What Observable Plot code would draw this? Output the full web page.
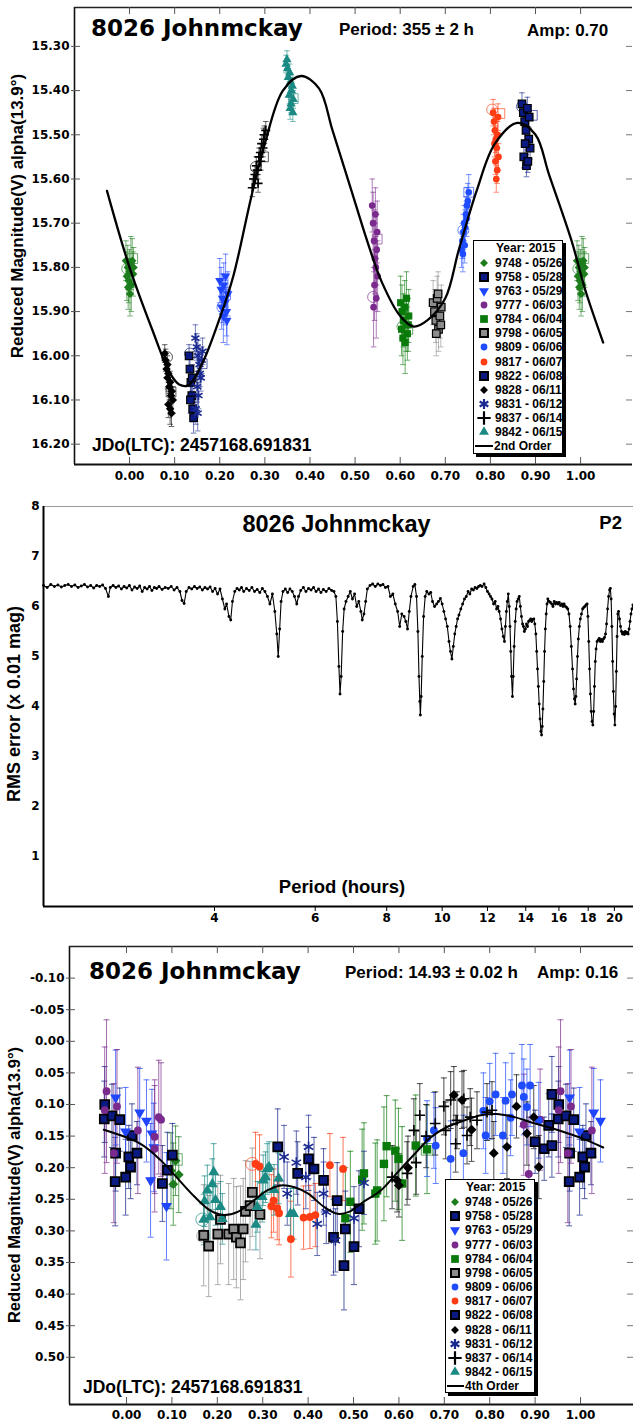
<!DOCTYPE html>
<html><head><meta charset="utf-8">
<script src="https://cdn.jsdelivr.net/npm/d3@7"></script>
<script src="https://cdn.jsdelivr.net/npm/@observablehq/plot@0.6"></script>
<style>
body{margin:0;background:#fff}
#page{position:relative;width:633px;height:1425px;overflow:hidden;background:#fff}
.t{position:absolute;white-space:nowrap;color:#000}
.lg{position:absolute;border:1px solid #000;background:#fff;box-shadow:3px 3px 0 #000}
.lg div{position:absolute;white-space:nowrap;font:bold 12px "Liberation Sans",Arial,sans-serif;line-height:14px;color:#000}
</style></head><body><div id="page"></div>
<script>
// ---------- sessions ----------
const sessionIds = ["9748","9758","9763","9777","9784","9798","9809","9817","9822","9828","9831","9837","9842"];
const sessionDates = ["05/26","05/28","05/29","06/03","06/04","06/05","06/06","06/07","06/08","06/11","06/12","06/14","06/15"];
const sessionColors = ["#1d7d1d","#0a1a82","#1f45ff","#7a2a8c","#0a7a0a","#8c8c8c","#1f4cff","#ff3c14","#0a1a82","#000000","#1a2a90","#000000","#1b8a84"];
const sessionSymbols = ["diamond","squareB","triDown","circle","square","squareB","circle","circle","squareB","diamond","asterisk","plus","triangle"];

// ---------- top panel (P = 355 h): [phase, mag, err] ----------
const top9748 = [[-0.008,15.785,0.045],[-0.004,15.80,0.05],[0.000,15.81,0.05],[0.003,15.79,0.06],[0.006,15.785,0.05],[0.009,15.80,0.045],[-0.002,15.83,0.05],[0.004,15.84,0.06],[0.001,15.86,0.05],[-0.006,15.82,0.055],[0.008,15.815,0.05],[-0.003,15.845,0.05]];
const top9758 = [[0.132,16.00,0.025],[0.134,16.03,0.03],[0.136,16.06,0.03],[0.138,16.09,0.03],[0.140,16.12,0.03],[0.142,16.14,0.035],[0.135,16.10,0.03],[0.139,16.05,0.03]];
const top9763 = [[0.200,15.83,0.05],[0.203,15.85,0.05],[0.206,15.87,0.055],[0.209,15.84,0.05],[0.212,15.88,0.05],[0.215,15.90,0.055],[0.218,15.86,0.05],[0.208,15.91,0.06],[0.213,15.82,0.05],[0.216,15.92,0.055],[0.204,15.89,0.05]];
const top9777 = [[0.538,15.66,0.06],[0.540,15.70,0.07],[0.542,15.74,0.07],[0.544,15.78,0.08],[0.546,15.80,0.07],[0.548,15.76,0.08],[0.550,15.82,0.08],[0.543,15.84,0.08],[0.547,15.87,0.09],[0.541,15.89,0.09],[0.549,15.72,0.07],[0.545,15.68,0.06]];
const top9784 = [[0.601,15.88,0.06],[0.604,15.90,0.06],[0.607,15.92,0.06],[0.610,15.89,0.06],[0.613,15.93,0.06],[0.616,15.95,0.06],[0.619,15.91,0.06],[0.606,15.96,0.06],[0.611,15.97,0.07],[0.614,15.87,0.06],[0.603,15.94,0.06],[0.618,15.93,0.06]];
const top9798 = [[0.673,15.88,0.05],[0.676,15.90,0.05],[0.679,15.92,0.05],[0.682,15.87,0.05],[0.685,15.94,0.05],[0.688,15.91,0.05],[0.691,15.89,0.05],[0.680,15.95,0.05],[0.684,15.86,0.05],[0.690,15.93,0.05]];
const top9809 = [[0.736,15.76,0.04],[0.738,15.74,0.04],[0.740,15.72,0.04],[0.742,15.70,0.04],[0.744,15.71,0.04],[0.746,15.68,0.04],[0.748,15.66,0.04],[0.750,15.65,0.04],[0.752,15.63,0.04],[0.743,15.75,0.04],[0.747,15.69,0.04],[0.739,15.77,0.04]];
const top9817 = [[0.806,15.45,0.03],[0.808,15.47,0.03],[0.810,15.49,0.03],[0.812,15.51,0.03],[0.814,15.53,0.03],[0.816,15.50,0.03],[0.818,15.55,0.03],[0.811,15.56,0.03],[0.815,15.58,0.03],[0.813,15.60,0.03],[0.809,15.52,0.03],[0.817,15.46,0.03]];
const top9822 = [[0.870,15.43,0.025],[0.873,15.45,0.025],[0.876,15.47,0.025],[0.879,15.49,0.025],[0.882,15.44,0.025],[0.885,15.51,0.025],[0.888,15.53,0.025],[0.874,15.55,0.025],[0.880,15.57,0.025],[0.886,15.46,0.025],[0.877,15.52,0.025],[0.883,15.56,0.025]];
const top9828 = [[0.078,15.995,0.02],[0.080,16.01,0.025],[0.082,16.03,0.02],[0.084,16.05,0.025],[0.086,16.04,0.02],[0.088,16.07,0.03],[0.090,16.06,0.025],[0.092,16.09,0.03],[0.094,16.08,0.025],[0.086,16.11,0.03],[0.090,16.12,0.035],[0.093,16.13,0.03],[0.084,16.02,0.02],[0.096,16.10,0.03]];
const top9831 = [[0.146,15.96,0.03],[0.149,15.98,0.03],[0.152,16.00,0.035],[0.155,16.02,0.03],[0.158,16.05,0.03],[0.150,16.07,0.035],[0.153,16.09,0.03],[0.147,16.12,0.035],[0.156,16.04,0.03],[0.160,16.01,0.03],[0.162,15.99,0.03],[0.151,16.13,0.04]];
const top9837 = [[0.272,15.62,0.02],[0.275,15.60,0.02],[0.278,15.59,0.02],[0.281,15.57,0.02],[0.284,15.58,0.02],[0.287,15.55,0.02],[0.290,15.54,0.02],[0.293,15.52,0.02],[0.296,15.53,0.02],[0.299,15.50,0.02],[0.302,15.49,0.02],[0.285,15.61,0.02],[0.291,15.56,0.02],[0.297,15.51,0.025]];
const top9842 = [[0.347,15.34,0.02],[0.350,15.35,0.02],[0.352,15.37,0.02],[0.355,15.36,0.02],[0.357,15.38,0.02],[0.359,15.40,0.02],[0.361,15.39,0.02],[0.363,15.42,0.02],[0.354,15.41,0.02],[0.358,15.43,0.02],[0.362,15.45,0.02],[0.349,15.33,0.02],[0.356,15.44,0.025]];
// open session markers: [session index, shape, phase, mag]
const topOpen = [[0,"c",-0.005,15.803],[0,"s",0.007,15.78],[9,"c",0.083,16.003],[9,"s",0.092,16.082],[1,"c",0.134,15.995],[1,"s",0.161,16.018],[2,"c",0.206,15.89],[2,"s",0.213,15.862],[11,"c",0.28,15.573],[11,"s",0.297,15.55],[12,"s",0.363,15.418],[3,"s",0.549,15.736],[3,"c",0.54,15.867],[4,"c",0.605,15.934],[4,"s",0.617,15.94],[5,"s",0.685,15.912],[6,"s",0.752,15.63],[6,"c",0.74,15.716],[7,"c",0.804,15.443],[7,"s",0.821,15.452],[8,"c",0.87,15.436],[8,"s",0.893,15.456]];
const fit2nd = [[-0.05,15.627],[0.00,15.80],[0.05,15.94],[0.09,16.04],[0.11,16.065],[0.13,16.067],[0.16,16.02],[0.20,15.915],[0.23,15.82],[0.27,15.64],[0.30,15.52],[0.34,15.40],[0.38,15.367],[0.42,15.395],[0.45,15.49],[0.49,15.62],[0.53,15.75],[0.56,15.835],[0.60,15.91],[0.63,15.934],[0.66,15.92],[0.70,15.87],[0.73,15.76],[0.77,15.625],[0.81,15.52],[0.86,15.473],[0.90,15.50],[0.93,15.59],[0.98,15.74],[1.01,15.85],[1.05,15.97]];
const topXTicks = [0,0.1,0.2,0.3,0.4,0.5,0.6,0.7,0.8,0.9,1.0];
const topYTicks = [15.3,15.4,15.5,15.6,15.7,15.8,15.9,16.0,16.1,16.2];

// ---------- bottom panel (P = 14.93 h): [phase, relative mag, err] ----------
const b9748 = [[0.098,0.205,0.06],[0.103,0.226,0.065],[0.108,0.189,0.055],[0.115,0.211,0.06]];
const b9758 = [[0.952,0.100,0.06],[0.951,0.123,0.06],[0.968,0.118,0.05],[0.985,0.124,0.05],[0.976,0.177,0.06],[0.975,0.222,0.07],[0.998,0.215,0.06],[0.005,0.183,0.05],[0.009,0.199,0.05],[0.023,0.177,0.05],[0.012,0.149,0.05],[0.079,0.225,0.06],[0.101,0.180,0.05],[0.090,0.204,0.06],[0.937,0.084,0.06],[0.920,0.170,0.05],[0.900,0.159,0.05],[0.930,0.133,0.05],[0.937,0.165,0.05]];
const b9763 = [[0.976,0.089,0.075],[0.998,0.143,0.07],[0.029,0.113,0.07],[0.044,0.126,0.065],[0.056,0.146,0.07],[0.060,0.168,0.07],[0.053,0.220,0.09],[0.088,0.261,0.085]];
const b9777 = [[0.025,0.141,0.10],[0.062,0.151,0.09],[0.071,0.120,0.09],[0.076,0.124,0.09],[0.062,0.170,0.10],[0.875,0.132,0.08],[0.886,0.210,0.09],[0.911,0.124,0.08],[0.952,0.109,0.10],[0.956,0.079,0.113],[0.972,0.177,0.11],[0.979,0.103,0.09]];
const b9784 = [[0.482,0.280,0.08],[0.493,0.254,0.08],[0.519,0.219,0.08],[0.523,0.209,0.08],[0.548,0.241,0.08],[0.552,0.236,0.08],[0.567,0.194,0.09],[0.573,0.166,0.08],[0.592,0.173,0.08],[0.599,0.186,0.08],[0.607,0.225,0.09],[0.637,0.165,0.08],[0.662,0.171,0.07]];
const b9798 = [[0.170,0.307,0.08],[0.181,0.324,0.08],[0.201,0.305,0.08],[0.207,0.282,0.07],[0.225,0.305,0.08],[0.236,0.297,0.08],[0.242,0.310,0.08],[0.251,0.319,0.09],[0.257,0.297,0.08],[0.262,0.269,0.08],[0.272,0.260,0.07],[0.277,0.239,0.07],[0.294,0.274,0.07]];
const b9809 = [[0.662,0.154,0.06],[0.677,0.141,0.06],[0.681,0.165,0.06],[0.714,0.186,0.06],[0.742,0.177,0.06],[0.786,0.110,0.06],[0.791,0.149,0.06],[0.800,0.095,0.06],[0.813,0.084,0.065],[0.829,0.149,0.06],[0.835,0.094,0.06],[0.846,0.121,0.06],[0.849,0.084,0.065],[0.871,0.070,0.065],[0.875,0.088,0.06],[0.882,0.104,0.06],[0.889,0.070,0.065],[0.908,0.125,0.06]];
const b9817 = [[0.284,0.194,0.05],[0.293,0.198,0.05],[0.319,0.261,0.05],[0.324,0.252,0.05],[0.332,0.264,0.05],[0.336,0.272,0.05],[0.362,0.313,0.06],[0.390,0.279,0.05],[0.404,0.278,0.05],[0.416,0.275,0.05],[0.448,0.196,0.05],[0.477,0.202,0.05]];
const b9822 = [[0.333,0.167,0.06],[0.377,0.209,0.05],[0.401,0.186,0.05],[0.413,0.202,0.05],[0.434,0.220,0.05],[0.456,0.310,0.06],[0.464,0.252,0.06],[0.479,0.355,0.07],[0.482,0.297,0.06],[0.501,0.325,0.06],[0.512,0.265,0.06]];
const b9828 = [[0.596,0.220,0.05],[0.600,0.228,0.05],[0.620,0.200,0.05],[0.721,0.085,0.045],[0.739,0.093,0.045],[0.760,0.140,0.05],[0.809,0.177,0.05],[0.838,0.167,0.05],[0.859,0.103,0.05],[0.882,0.146,0.05],[0.897,0.120,0.05],[0.908,0.199,0.05]];
const b9831 = [[0.347,0.183,0.05],[0.354,0.241,0.05],[0.374,0.192,0.05],[0.395,0.215,0.05],[0.401,0.167,0.05],[0.420,0.289,0.05],[0.434,0.241,0.05],[0.440,0.270,0.05],[0.460,0.315,0.05],[0.501,0.280,0.05],[0.523,0.224,0.05]];
const b9837 = [[0.585,0.215,0.05],[0.618,0.209,0.05],[0.633,0.141,0.05],[0.638,0.192,0.05],[0.646,0.117,0.05],[0.660,0.150,0.05],[0.680,0.130,0.05],[0.699,0.103,0.045],[0.703,0.141,0.045],[0.714,0.093,0.045],[0.725,0.162,0.045],[0.728,0.125,0.045],[0.743,0.091,0.045],[0.750,0.149,0.045],[0.757,0.120,0.045],[0.772,0.125,0.045],[0.794,0.112,0.045],[0.805,0.109,0.045]];
const b9842 = [[0.170,0.282,0.04],[0.172,0.253,0.04],[0.178,0.236,0.04],[0.184,0.278,0.04],[0.189,0.226,0.04],[0.192,0.207,0.045],[0.196,0.251,0.04],[0.207,0.262,0.04],[0.211,0.281,0.04],[0.285,0.290,0.04],[0.288,0.262,0.04],[0.299,0.246,0.04],[0.301,0.220,0.04],[0.306,0.215,0.04],[0.310,0.202,0.04],[0.314,0.199,0.04],[0.325,0.235,0.04],[0.335,0.217,0.04],[0.361,0.273,0.04],[0.368,0.273,0.04]];
const bottomOpen = [[0,"s",0.110,0.187],[12,"c",0.167,0.282],[5,"c",0.169,0.308],[7,"c",0.277,0.194],[4,"s",0.662,0.171]];
const fit4th = [[-0.05,0.140],[0.03,0.162],[0.075,0.188],[0.11,0.215],[0.15,0.246],[0.185,0.268],[0.215,0.275],[0.245,0.270],[0.28,0.252],[0.31,0.236],[0.34,0.228],[0.37,0.231],[0.40,0.241],[0.435,0.262],[0.465,0.273],[0.49,0.270],[0.52,0.255],[0.56,0.236],[0.595,0.209],[0.635,0.178],[0.67,0.152],[0.705,0.136],[0.745,0.125],[0.78,0.117],[0.815,0.115],[0.855,0.12],[0.89,0.128],[0.93,0.136],[0.965,0.144],[1.005,0.154],[1.05,0.168]];
const botXTicks = [0,0.1,0.2,0.3,0.4,0.5,0.6,0.7,0.8,0.9,1.0];
const botYTicks = [-0.10,-0.05,0,0.05,0.10,0.15,0.20,0.25,0.30,0.35,0.40,0.45,0.50];

// ---------- periodogram: [period hours, RMS x0.01 mag] ----------
const periodogram = [[2.01,6.42],[2.04,6.38],[2.07,6.44],[2.10,6.40],[2.13,6.43],[2.16,6.39],[2.19,6.42],[2.22,6.44],[2.25,6.40],[2.28,6.43],[2.31,6.38],[2.34,6.41],[2.37,6.44],[2.40,6.39],[2.43,6.42],[2.46,6.37],[2.49,6.42],[2.52,6.40],[2.55,6.43],[2.58,6.36],[2.61,6.20],[2.63,6.38],[2.66,6.42],[2.69,6.38],[2.72,6.41],[2.75,6.35],[2.78,6.40],[2.81,6.37],[2.84,6.42],[2.87,6.33],[2.90,6.39],[2.93,6.36],[2.96,6.41],[2.99,6.30],[3.02,6.38],[3.05,6.35],[3.08,6.40],[3.11,6.32],[3.14,6.38],[3.17,6.36],[3.20,6.40],[3.24,6.34],[3.28,6.38],[3.32,6.36],[3.36,6.40],[3.40,6.33],[3.44,6.38],[3.48,6.30],[3.51,6.12],[3.54,6.06],[3.57,6.30],[3.61,6.38],[3.65,6.35],[3.69,6.40],[3.73,6.36],[3.77,6.39],[3.81,6.33],[3.85,6.38],[3.89,6.35],[3.93,6.39],[3.97,6.30],[4.01,6.36],[4.05,6.25],[4.09,6.35],[4.13,6.15],[4.17,5.95],[4.20,6.05],[4.24,5.80],[4.27,5.73],[4.30,6.10],[4.34,6.30],[4.38,6.36],[4.42,6.33],[4.46,6.38],[4.50,6.30],[4.55,6.36],[4.60,6.32],[4.65,6.38],[4.70,6.30],[4.75,6.34],[4.80,6.28],[4.85,6.36],[4.90,6.30],[4.95,6.20],[5.00,6.05],[5.05,6.25],[5.10,5.90],[5.14,5.45],[5.17,5.00],[5.20,5.55],[5.23,6.10],[5.27,6.30],[5.32,6.35],[5.37,6.28],[5.42,6.35],[5.47,6.30],[5.52,6.20],[5.57,6.05],[5.61,6.20],[5.66,6.32],[5.72,6.38],[5.78,6.30],[5.84,6.36],[5.90,6.33],[5.96,6.38],[6.02,6.30],[6.08,6.35],[6.14,6.28],[6.20,6.34],[6.27,6.30],[6.34,6.36],[6.41,6.32],[6.47,6.30],[6.52,6.20],[6.56,5.70],[6.60,4.80],[6.63,4.25],[6.66,4.60],[6.70,5.50],[6.74,5.95],[6.79,6.10],[6.85,6.20],[6.91,6.30],[6.97,6.15],[7.03,6.25],[7.09,6.00],[7.15,6.10],[7.21,5.90],[7.25,5.73],[7.30,5.85],[7.35,6.10],[7.40,6.35],[7.48,6.42],[7.56,6.45],[7.64,6.40],[7.72,6.45],[7.80,6.42],[7.88,6.44],[7.96,6.38],[8.04,6.40],[8.12,6.20],[8.20,6.25],[8.28,6.05],[8.36,5.90],[8.43,5.60],[8.50,5.85],[8.58,5.80],[8.64,5.70],[8.70,5.55],[8.76,5.90],[8.82,6.20],[8.90,6.40],[8.96,6.44],[9.02,6.20],[9.07,5.50],[9.11,4.60],[9.14,4.10],[9.16,3.83],[9.19,4.20],[9.23,5.00],[9.28,5.80],[9.34,6.20],[9.40,6.30],[9.48,6.25],[9.55,6.28],[9.62,6.10],[9.70,6.00],[9.78,6.05],[9.85,6.10],[9.93,6.16],[10.00,6.05],[10.07,5.90],[10.14,5.75],[10.21,5.60],[10.28,5.30],[10.34,5.10],[10.40,4.95],[10.46,5.20],[10.52,5.45],[10.58,5.60],[10.64,5.75],[10.70,5.83],[10.78,5.95],[10.86,6.05],[10.94,6.15],[11.02,6.20],[11.10,6.30],[11.18,6.25],[11.26,6.35],[11.34,6.33],[11.42,6.38],[11.50,6.36],[11.58,6.40],[11.66,6.42],[11.74,6.40],[11.84,6.45],[11.92,6.38],[12.00,6.30],[12.08,6.25],[12.15,6.20],[12.22,6.15],[12.30,6.05],[12.38,6.10],[12.45,5.95],[12.52,6.00],[12.58,5.90],[12.65,5.75],[12.72,5.55],[12.79,5.40],[12.85,5.30],[12.90,5.60],[12.95,5.90],[13.00,6.10],[13.05,6.25],[13.10,6.00],[13.14,5.60],[13.18,5.10],[13.22,4.60],[13.27,4.20],[13.31,4.60],[13.36,5.20],[13.42,5.70],[13.47,5.95],[13.52,6.10],[13.58,6.15],[13.64,6.20],[13.70,6.00],[13.76,5.80],[13.82,5.65],[13.87,5.60],[13.92,5.50],[13.98,5.55],[14.04,5.65],[14.10,5.60],[14.16,5.70],[14.22,5.72],[14.28,5.75],[14.34,5.70],[14.40,5.74],[14.46,5.75],[14.52,5.65],[14.58,5.45],[14.63,5.10],[14.68,4.75],[14.73,4.40],[14.78,4.05],[14.83,3.75],[14.88,3.50],[14.92,3.43],[14.96,3.60],[15.00,3.95],[15.05,4.50],[15.10,5.10],[15.15,5.55],[15.20,5.85],[15.25,6.05],[15.30,6.15],[15.38,6.10],[15.46,6.08],[15.54,6.05],[15.62,6.00],[15.70,6.10],[15.78,6.05],[15.86,6.08],[15.94,6.05],[16.02,6.08],[16.10,6.02],[16.18,6.05],[16.26,6.00],[16.34,6.05],[16.42,6.00],[16.50,5.98],[16.58,5.95],[16.66,5.85],[16.74,5.60],[16.82,5.20],[16.90,4.75],[16.97,4.35],[17.03,4.15],[17.08,4.05],[17.13,4.20],[17.18,4.55],[17.24,5.00],[17.30,5.35],[17.37,5.60],[17.44,5.75],[17.52,5.85],[17.60,5.95],[17.68,5.98],[17.76,6.00],[17.84,6.03],[17.92,6.05],[17.98,5.80],[18.04,5.30],[18.10,4.75],[18.16,4.25],[18.22,3.90],[18.28,3.70],[18.34,3.63],[18.40,3.90],[18.46,4.40],[18.52,4.90],[18.58,5.15],[18.66,5.30],[18.74,5.33],[18.82,5.36],[18.90,5.30],[18.98,5.34],[19.06,5.30],[19.14,5.35],[19.22,5.38],[19.30,5.45],[19.38,5.65],[19.46,5.95],[19.54,6.20],[19.62,6.33],[19.68,6.36],[19.74,6.15],[19.80,5.60],[19.86,4.90],[19.92,4.30],[19.98,3.85],[20.04,3.63],[20.10,4.00],[20.16,4.70],[20.22,5.40],[20.28,5.85],[20.34,5.90],[20.42,5.75],[20.50,5.60],[20.58,5.50],[20.66,5.45],[20.74,5.48],[20.82,5.44],[20.90,5.50],[20.98,5.46],[21.06,5.48],[21.14,5.45],[21.22,5.55],[21.30,5.70],[21.38,5.85],[21.46,5.95],[21.55,6.03]];
const periodTicks = [4,6,8,10,12,14,16,18,20];
const rmsTicks = [1,2,3,4,5,6,7,8];

// ---------- helpers ----------
const W = 633;
const page = document.getElementById("page");
const LS = '"Liberation Sans", Arial, sans-serif';
const DV = '"DejaVu Sans", Verdana, sans-serif';
const hline = {draw(ctx, size){ const r = Math.sqrt(size/Math.PI); ctx.moveTo(-r,0); ctx.lineTo(r,0); }};
const triDown = {draw(ctx, size){ const y = -Math.sqrt(size/(Math.sqrt(3)*3)); ctx.moveTo(0,-2*y); ctx.lineTo(-Math.sqrt(3)*y, y); ctx.lineTo(Math.sqrt(3)*y, y); ctx.closePath(); }};

function wrap(rows, lo, hi) {
  const out = [];
  for (const [p, v, e] of rows) for (const s of [-1, 0, 1]) {
    const q = p + s;
    if (q >= lo && q <= hi) out.push({x: q, y: v, e});
  }
  return out;
}
function markerOpts(kind, col, k) {
  switch (kind) {
    case "diamond": return {symbol: "diamond2", fill: col, r: 3.3*k};
    case "squareB": return {symbol: "square", fill: col, stroke: "#000", strokeWidth: k > 1.2 ? 1.8 : 1.2, r: 3.7*k};
    case "square": return {symbol: "square", fill: col, r: 3.5*k};
    case "circle": return {symbol: "circle", fill: col, r: 2.9*k};
    case "triDown": return {symbol: triDown, fill: col, r: 3.0*k};
    case "triangle": return {symbol: "triangle", fill: col, r: 3.0*k};
    case "asterisk": return {symbol: "asterisk", fill: "none", stroke: col, strokeWidth: 1.6, r: 3.8*k};
    case "plus": return {symbol: "plus", fill: "none", stroke: col, strokeWidth: 1.6, r: 2.6*k};
  }
}
function place(svg, top) {
  svg.style.position = "absolute"; svg.style.left = "0px"; svg.style.top = top + "px";
  page.appendChild(svg);
}
function txt(s, x, yc, {size = 17, family = LS, anchor = "start", rotate = 0} = {}) {
  const d = document.createElement("div");
  d.className = "t";
  d.textContent = s;
  d.style.font = `bold ${size}px ${family}`;
  d.style.lineHeight = (size * 1.2) + "px";
  d.style.left = x + "px";
  d.style.top = yc + "px";
  const tx = anchor === "middle" ? "-50%" : anchor === "end" ? "-100%" : "0";
  d.style.transform = `translate(${tx},-50%)` + (rotate ? ` rotate(${rotate}deg)` : "");
  page.appendChild(d);
}
const axisStyle = {fontFamily: DV, fontSize: "12px", fontWeight: "bold", color: "#000", background: "transparent", overflow: "visible"};

function phasePanel(cfg) {
  const plotW = W - cfg.ml - cfg.mr, plotH = cfg.height - cfg.mt - cfg.mb;
  const marks = [];
  sessionIds.forEach((id, i) => {
    const rows = wrap(cfg.data[i], cfg.lo, cfg.hi);
    const col = sessionColors[i];
    const bar = {stroke: col, strokeOpacity: cfg.barOpacity, strokeWidth: 1};
    marks.push(Plot.ruleX(rows, {x: "x", y1: d => d.y - d.e, y2: d => d.y + d.e, ...bar}));
    marks.push(Plot.dot(rows, {x: "x", y: d => d.y - d.e, symbol: hline, r: cfg.capR, fill: "none", ...bar}));
    marks.push(Plot.dot(rows, {x: "x", y: d => d.y + d.e, symbol: hline, r: cfg.capR, fill: "none", ...bar}));
  });
  const open = [];
  for (const [i, shape, p, v] of cfg.open) for (const s of [-1, 0, 1]) {
    const q = p + s;
    if (q >= cfg.lo && q <= cfg.hi) open.push({x: q, y: v, col: sessionColors[i], shape});
  }
  marks.push(Plot.dot(open.filter(d => d.shape === "c"), {x: "x", y: "y", r: cfg.openR, symbol: "circle", fill: "none", stroke: d => d.col, strokeOpacity: 0.65, strokeWidth: 1}));
  marks.push(Plot.dot(open.filter(d => d.shape === "s"), {x: "x", y: "y", r: cfg.openR, symbol: "square", fill: "none", stroke: d => d.col, strokeOpacity: 0.65, strokeWidth: 1}));
  sessionIds.forEach((id, i) => {
    const rows = wrap(cfg.data[i], cfg.lo, cfg.hi);
    marks.push(Plot.dot(rows, {x: "x", y: "y", ...markerOpts(sessionSymbols[i], sessionColors[i], cfg.k)}));
  });
  marks.push(Plot.line(cfg.fit, {x: d => d[0], y: d => d[1], curve: "catmull-rom", stroke: "#000", strokeWidth: cfg.fitW}));
  // frame (left, top, bottom) and inner ticks
  marks.push(Plot.ruleX([cfg.xDom[0]], {stroke: "#111", strokeWidth: 1.6}));
  marks.push(Plot.ruleY([cfg.yDom[0]], {stroke: "#222", strokeWidth: 1.6}));
  marks.push(Plot.ruleY([cfg.yDom[1]], {stroke: "#111", strokeWidth: 2}));
  marks.push(Plot.tickX(cfg.xTicks, {x: d => d, insetBottom: plotH - 7, stroke: "#555"}));
  marks.push(Plot.tickX(cfg.xTicks, {x: d => d, insetTop: plotH - 7, stroke: "#555"}));
  marks.push(Plot.tickY(cfg.yTicks, {y: d => d, insetRight: plotW - 6, insetLeft: -3, stroke: "#555"}));
  marks.push(Plot.tickY(cfg.yTicks, {y: d => d, insetLeft: plotW - 6, stroke: "#777"}));
  return Plot.plot({
    width: W, height: cfg.height,
    marginLeft: cfg.ml, marginRight: cfg.mr, marginTop: cfg.mt, marginBottom: cfg.mb,
    style: axisStyle,
    x: {domain: cfg.xDom, ticks: cfg.xTicks, tickFormat: d => d.toFixed(2), tickSize: 0, tickPadding: cfg.xPad, label: null},
    y: {domain: cfg.yDom, reverse: true, ticks: cfg.yTicks, tickFormat: d => d.toFixed(2), tickSize: 0, tickPadding: 5, label: null},
    marks
  });
}

// ---------- panel 1 ----------
const p1 = phasePanel({
  height: 490, ml: 74, mr: 1, mt: 7, mb: 26,
  xDom: [-0.122, 1.115], yDom: [15.212, 16.246], xTicks: topXTicks, yTicks: topYTicks, xPad: 7,
  lo: -0.055, hi: 1.052,
  data: [top9748, top9758, top9763, top9777, top9784, top9798, top9809, top9817, top9822, top9828, top9831, top9837, top9842],
  open: topOpen, fit: fit2nd, fitW: 2.3, capR: 2.8, openR: 5.5, barOpacity: 0.6, k: 1.15
});
place(p1, 0);

// ---------- panel 2 (periodogram) ----------
const p2 = Plot.plot({
  width: W, height: 440,
  marginLeft: 43, marginRight: 0, marginTop: 16, marginBottom: 24,
  style: axisStyle,
  x: {type: "log", domain: [2.01, 21.6], ticks: periodTicks, tickFormat: d => String(d), tickSize: 5, tickPadding: 2, label: null},
  y: {domain: [0, 8], ticks: rmsTicks, tickFormat: d => String(d), tickSize: 0, tickPadding: 4, label: null},
  marks: [
    Plot.ruleY([8], {stroke: "#999", strokeWidth: 1}),
    Plot.line(periodogram, {x: d => d[0], y: d => d[1], stroke: "#000", strokeWidth: 1.1}),
    Plot.dot(periodogram, {x: d => d[0], y: d => d[1], r: 1.45, fill: "#000"}),
    Plot.ruleX([2.01], {stroke: "#000", strokeWidth: 2}),
    Plot.ruleY([0], {stroke: "#000", strokeWidth: 2})
  ]
});
place(p2, 490);

// ---------- panel 3 ----------
const p3 = phasePanel({
  height: 495, ml: 69, mr: 0, mt: 16, mb: 21,
  xDom: [-0.1256, 1.1167], yDom: [-0.150, 0.5747], xTicks: botXTicks, yTicks: botYTicks, xPad: 6,
  lo: -0.062, hi: 1.052,
  data: [b9748, b9758, b9763, b9777, b9784, b9798, b9809, b9817, b9822, b9828, b9831, b9837, b9842],
  open: bottomOpen, fit: fit4th, fitW: 2, capR: 3, openR: 6.5, barOpacity: 0.7, k: 1.35
});
place(p3, 930);

// ---------- text ----------
txt("8026 Johnmckay", 91, 28.5, {size: 23, family: DV});
txt("Period: 355 ± 2 h", 339, 30, {size: 17});
txt("Amp: 0.70", 527, 31, {size: 17});
txt("JDo(LTC): 2457168.691831", 92, 444.5, {size: 17.5});
txt("Reduced Magnitude(V) alpha(13.9°)", 17.5, 216, {size: 17, anchor: "middle", rotate: -90});

txt("8026 Johnmckay", 336.5, 524, {size: 23.5, anchor: "middle"});
txt("P2", 622, 523, {size: 18.5, anchor: "end"});
txt("Period (hours)", 342, 887, {size: 18.5, anchor: "middle"});
txt("RMS error (x 0.01 mag)", 15, 704, {size: 18, anchor: "middle", rotate: -90});

txt("8026 Johnmckay", 89, 972, {size: 23, family: DV});
txt("Period: 14.93 ± 0.02 h", 345, 973, {size: 17});
txt("Amp: 0.16", 537, 973, {size: 17});
txt("JDo(LTC): 2457168.691831", 83, 1386.5, {size: 17.5});
txt("Reduced Magnitude(V) alpha(13.9°)", 15, 1185, {size: 16.5, anchor: "middle", rotate: -90});

// ---------- legends ----------
const legendSym = {diamond: d3.symbolDiamond2, squareB: d3.symbolSquare, square: d3.symbolSquare, circle: d3.symbolCircle, triDown: triDown, triangle: d3.symbolTriangle, asterisk: d3.symbolAsterisk, plus: d3.symbolPlus};
const legendSize = {diamond: 40, squareB: 64, square: 60, circle: 36, triDown: 42, triangle: 42, asterisk: 70, plus: 60};
function legend(left, top, fitLabel, o) {
  const box = document.createElement("div");
  box.className = "lg";
  Object.assign(box.style, {left: left + "px", top: top + "px", width: "88px", height: "212px"});
  page.appendChild(box);
  const row = (s, x, yc) => { const d = document.createElement("div"); d.textContent = s; d.style.left = x + "px"; d.style.top = (yc - 7) + "px"; box.appendChild(d); };
  row("Year: 2015", o.textX + 1, o.yearY);
  sessionIds.forEach((id, i) => {
    const yc = o.firstY + i * o.step;
    const kind = sessionSymbols[i], col = sessionColors[i];
    const svg = d3.create("svg").attr("width", 14).attr("height", 14)
      .style("position", "absolute").style("left", (o.symX - 7) + "px").style("top", (yc - 7) + "px").style("overflow", "visible");
    const path = svg.append("path").attr("transform", "translate(7,7)")
      .attr("d", d3.symbol(legendSym[kind], legendSize[kind])());
    if (kind === "plus" || kind === "asterisk") path.attr("fill", "none").attr("stroke", col).attr("stroke-width", 2.2);
    else path.attr("fill", col).attr("stroke", kind === "squareB" ? "#000" : "none").attr("stroke-width", 2);
    box.appendChild(svg.node());
    row(`${id} - ${sessionDates[i]}`, o.textX, yc);
  });
  const ln = document.createElement("div");
  Object.assign(ln.style, {left: o.lineX0 + "px", top: (o.fitY - 1) + "px", width: (o.lineX1 - o.lineX0) + "px", height: "2px", background: "#000"});
  box.appendChild(ln);
  row(fitLabel, o.lineX1 + 1, o.fitY);
}
legend(473, 240, "2nd Order", {symX: 10, textX: 21, yearY: 7, firstY: 22, step: 14.08, fitY: 205, lineX0: 1, lineX1: 19});
legend(445, 1179, "4th Order", {symX: 9, textX: 19, yearY: 7, firstY: 22, step: 14.17, fitY: 206, lineX0: 1, lineX1: 18});
</script></body></html>
